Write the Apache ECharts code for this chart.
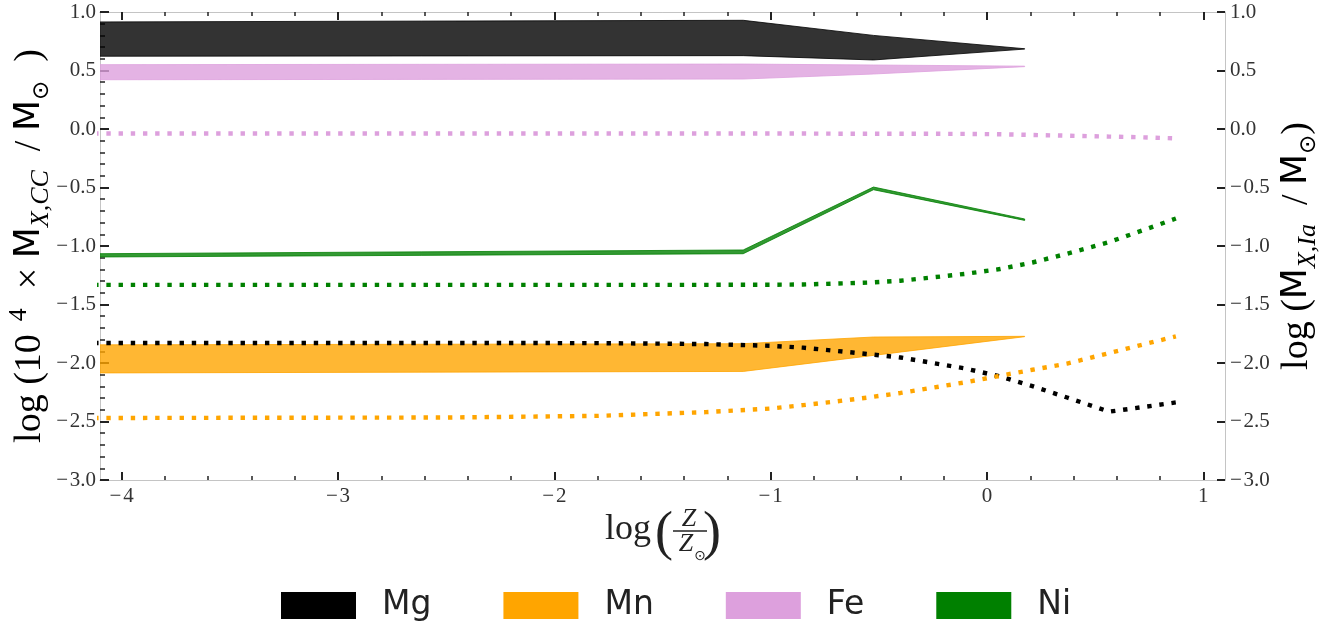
<!DOCTYPE html>
<html><head><meta charset="utf-8">
<script src="https://cdn.jsdelivr.net/npm/echarts@6/dist/echarts.min.js"></script>
<style>html,body{margin:0;padding:0;background:#fff}#c{width:1330px;height:622px}</style>
</head><body><div id="c"></div>
<script>
// ---------- data ----------
const elements = ['Mg', 'Mn', 'Fe', 'Ni'];
const lineColors = ['#000000', '#ffa500', '#dda0dd', '#008000'];
const bandColors = ['rgba(0,0,0,0.8)', 'rgba(255,165,0,0.8)', 'rgba(221,160,221,0.8)', 'rgba(0,128,0,0.8)'];

// core-collapse yields (bands), x = log(Z/Zsun)
const ccLogZ = [-4.127, -1.127, -0.525, 0.174];
const ccMgLow  = [0.622, 0.627, 0.590, 0.683];
const ccMgHigh = [0.915, 0.929, 0.800, 0.686];
const ccMnLow  = [-2.085, -2.072, -1.935, -1.775];
const ccMnHigh = [-1.845, -1.835, -1.778, -1.772];
const ccFeLow  = [0.421, 0.427, 0.470, 0.533];
const ccFeHigh = [0.550, 0.555, 0.547, 0.537];
const ccNiLow  = [-1.094, -1.066, -0.519, -0.781];
const ccNiHigh = [-1.066, -1.034, -0.496, -0.769];

// type Ia yields (dotted lines)
const iaLogZ = [-4.127, -2.5, -1.8, -1.3, -1.0, -0.85, -0.7, -0.55, -0.4, -0.25, -0.1, 0.06, 0.21, 0.37, 0.565, 0.72, 0.873];
const iaMg = [-1.829, -1.829, -1.830, -1.838, -1.853, -1.869, -1.896, -1.924, -1.953, -2.000, -2.047, -2.115, -2.198, -2.295, -2.416, -2.377, -2.337];
const iaMn = [-2.470, -2.466, -2.452, -2.420, -2.389, -2.360, -2.329, -2.295, -2.256, -2.211, -2.165, -2.109, -2.058, -2.005, -1.915, -1.843, -1.772];
const iaFe = [-0.038, -0.038, -0.038, -0.039, -0.039, -0.039, -0.040, -0.040, -0.040, -0.041, -0.042, -0.045, -0.051, -0.057, -0.065, -0.071, -0.080];
const iaNi = [-1.332, -1.332, -1.332, -1.332, -1.331, -1.329, -1.321, -1.313, -1.297, -1.268, -1.238, -1.197, -1.141, -1.066, -0.966, -0.866, -0.765];

// ticks
const xMajorTicks = [-4, -3, -2, -1, 0, 1];
const xMinorTicks = [-3.8, -3.6, -3.4, -3.2, -2.8, -2.6, -2.4, -2.2, -1.8, -1.6, -1.4, -1.2,
                     -0.8, -0.6, -0.4, -0.2, 0.2, 0.4, 0.6, 0.8];

// ---------- build ----------
const ccLow = [ccMgLow, ccMnLow, ccFeLow, ccNiLow];
const ccHigh = [ccMgHigh, ccMnHigh, ccFeHigh, ccNiHigh];
const iaVals = [iaMg, iaMn, iaFe, iaNi];

const SERIF = "'Liberation Serif', 'DejaVu Serif', serif";
const SANS = "'DejaVu Sans', sans-serif";
const minus = s => String(s).replace('-', '\u2212\u200A');

const series = [];
elements.forEach((el, k) => {
  const rows = ccLogZ.map((x, i) => [x, ccLow[k][i], ccHigh[k][i]]);
  series.push({
    name: el, type: 'custom', silent: true, clip: true,
    itemStyle: { color: lineColors[k] },
    encode: { x: 0, y: [1, 2] },
    data: rows,
    renderItem: function (params, api) {
      if (params.dataIndex !== 0) return null;
      const top = rows.map(r => api.coord([r[0], r[2]]));
      const bot = rows.map(r => api.coord([r[0], r[1]])).reverse();
      return {
        type: 'polygon',
        shape: { points: top.concat(bot) },
        style: { fill: bandColors[k], stroke: bandColors[k], lineWidth: 1 }
      };
    }
  });
});
elements.forEach((el, k) => {
  series.push({
    name: el + ' Ia', type: 'line', yAxisIndex: 1, symbol: 'none', silent: true,
    lineStyle: { width: 4.4, color: lineColors[k], type: [4.4, 7.8], cap: 'butt' },
    data: iaLogZ.map((x, i) => [x, iaVals[k][i]])
  });
});

const axisGrey = '#c4c4c4';
const tickCol = '#222';
const labelStyle = { fontFamily: SERIF, fontSize: 21, color: '#333' };

function xAx(pos, ticks, len, w, labels) {
  return {
    type: 'value', position: pos, min: -4.1, max: 1.1,
    axisLine: { show: true, onZero: false, lineStyle: { color: axisGrey, width: 1 } },
    axisTick: { show: true, inside: true, length: len, customValues: ticks, lineStyle: { color: tickCol, width: w } },
    axisLabel: labels ? Object.assign({ show: true, customValues: ticks, margin: 6, formatter: v => minus(v) }, labelStyle) : { show: false },
    splitLine: { show: false }
  };
}

const subRich = {
  t: { fontFamily: SERIF, fontSize: 38, color: '#222', lineHeight: 48 },
  m: { fontFamily: SANS, fontSize: 36, color: '#222', lineHeight: 48 },
  sub: { fontFamily: SERIF, fontStyle: 'italic', fontSize: 26, color: '#222', lineHeight: 22, verticalAlign: 'bottom' },
  sup: { fontFamily: SERIF, fontSize: 26, color: '#222', lineHeight: 14, verticalAlign: 'top' },
  sun: { fontFamily: SANS, fontSize: 23, color: '#222', lineHeight: 22, verticalAlign: 'bottom' }
};

const option = {
  animation: false,
  grid: { left: 100, right: 105, top: 12, bottom: 142, containLabel: false },
  xAxis: [
    xAx('bottom', xMajorTicks, 8, 2, true),
    xAx('bottom', xMinorTicks, 4, 1.5, false),
    xAx('top', xMajorTicks, 8, 2, false),
    xAx('top', xMinorTicks, 4, 1.5, false)
  ],
  yAxis: [
    {
      type: 'value', position: 'left', min: -3, max: 1, interval: 0.5,
      axisLine: { show: true, onZero: false, lineStyle: { color: axisGrey, width: 1 } },
      axisTick: { show: true, inside: true, length: 9, lineStyle: { color: tickCol, width: 2 } },
      minorTick: { show: true, splitNumber: 5, length: 5, lineStyle: { color: tickCol, width: 1.5 } },
      axisLabel: Object.assign({ margin: 4, formatter: v => minus(v.toFixed(1)) }, labelStyle),
      splitLine: { show: false }
    },
    {
      type: 'value', position: 'right', min: -3, max: 1, interval: 0.5,
      axisLine: { show: true, onZero: false, lineStyle: { color: axisGrey, width: 1 } },
      axisTick: { show: true, inside: true, length: 8, lineStyle: { color: tickCol, width: 2 } },
      axisLabel: Object.assign({ margin: 5, formatter: v => minus(v.toFixed(1)) }, labelStyle),
      splitLine: { show: false }
    }
  ],
  legend: {
    left: 276, top: 584, orient: 'horizontal',
    icon: 'rect', itemWidth: 75, itemHeight: 27, itemGap: 72,
    selectedMode: false,
    itemStyle: { borderWidth: 0 },
    textStyle: { fontFamily: SANS, fontSize: 33, color: '#222', padding: [0, 0, 0, 21] },
    data: elements.map((el, k) => ({ name: el, icon: 'rect', itemStyle: { color: lineColors[k], borderWidth: 0 } }))
  },
  graphic: [
    { type: 'text', x: 30, y: 246, rotation: Math.PI / 2,
      style: { text: '{t|log (10}{sup|  4}{t|  × }{m|M}{sub|X,CC}{t|  / }{m|M}{sun|⊙}{t|  )}', rich: subRich, align: 'center', verticalAlign: 'middle' } },
    { type: 'text', x: 1297, y: 246, rotation: Math.PI / 2,
      style: { text: '{t|log (}{m|M}{sub|X,Ia}{t|  / }{m|M}{sun|⊙}{t|)}', rich: subRich, align: 'center', verticalAlign: 'middle' } },
    { type: 'text', x: 605, y: 530, style: { text: 'log', font: "36px 'Liberation Serif'", fill: '#222', align: 'left', verticalAlign: 'middle' } },
    { type: 'text', x: 664, y: 535, style: { text: '(', font: "54px 'Liberation Serif'", fill: '#222', align: 'center', verticalAlign: 'middle' } },
    { type: 'text', x: 689, y: 519, style: { text: 'Z', font: "italic 26px 'Liberation Serif'", fill: '#222', align: 'center', verticalAlign: 'middle' } },
    { type: 'line', shape: { x1: 673, y1: 531, x2: 707, y2: 531 }, style: { stroke: '#222', lineWidth: 1.6 } },
    { type: 'text', x: 686, y: 544, style: { text: 'Z', font: "italic 26px 'Liberation Serif'", fill: '#222', align: 'center', verticalAlign: 'middle' } },
    { type: 'text', x: 700, y: 556, style: { text: '⊙', font: "14px 'DejaVu Sans'", fill: '#222', align: 'center', verticalAlign: 'middle' } },
    { type: 'text', x: 712, y: 535, style: { text: ')', font: "54px 'Liberation Serif'", fill: '#222', align: 'center', verticalAlign: 'middle' } }
  ],
  series: series
};

const chart = echarts.init(document.getElementById('c'), null, { renderer: 'canvas' });
chart.setOption(option);
</script>
</body></html>
